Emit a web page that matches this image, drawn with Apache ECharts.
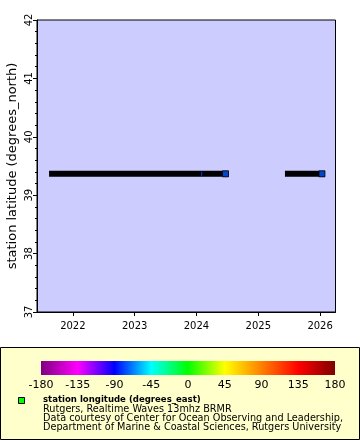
<!DOCTYPE html>
<html><head><meta charset="utf-8">
<script src="https://cdn.jsdelivr.net/npm/echarts@6/dist/echarts.min.js"></script>
<style>html,body{margin:0;padding:0;background:#fff}#c{width:360px;height:440px}</style>
</head><body><div id="c"></div>
<script>
// ---- data ----
const stationLat = 39.366;
const stationLon = -74.36;
const segmentStarts = ["2021-08-31", "2025-06-25"];
const segmentEnds = ["2024-06-21", "2026-01-12"];
const gapPoints = ["2024-02-01"];
const yearTicks = ["2022-01-01", "2023-01-01", "2024-01-01", "2025-01-01", "2026-01-01"];
const xMin = "2021-06-03";
const xMax = "2026-04-02";
const latTicks = [37, 38, 39, 40, 41, 42];
const colorbarTicks = [-180, -135, -90, -45, 0, 45, 90, 135, 180];
const paletteColors = ["#800080", "#ff00ff", "#0000ff", "#00ffff", "#00ff00", "#ffff00", "#ff8000", "#ff0000", "#800000"];
const legendLines = [
  "Rutgers, Realtime Waves 13mhz BRMR",
  "Data courtesy of Center for Ocean Observing and Leadership,",
  "Department of Marine & Coastal Sciences, Rutgers University"
];
const legendTitle = "station longitude (degrees_east)";

// ---- helpers ----
const ts = s => new Date(s + "T00:00:00Z").getTime();
function lonColor(v) {
  const t = (v + 180) / 45;
  const i = Math.min(7, Math.floor(t)), f = t - i;
  const a = paletteColors[i], b = paletteColors[i + 1];
  const p = (h, k) => parseInt(h.substr(k, 2), 16);
  const c = k => Math.round(p(a, k) + (p(b, k) - p(a, k)) * f);
  return "rgb(" + c(1) + "," + c(3) + "," + c(5) + ")";
}
const markColor = lonColor(stationLon);
const FONT = "DejaVu Sans";

const lineData = [];
segmentStarts.forEach((s, i) => {
  lineData.push([ts(s), stationLat], [ts(segmentEnds[i]), stationLat]);
  if (i < segmentStarts.length - 1) lineData.push([ts(segmentEnds[i]) + 1, null]);
});

// colorbar geometry
const cb = {left: 41, top: 361, width: 294, height: 14};

const chart = echarts.init(document.getElementById('c'), null, {renderer: 'canvas'});
chart.setOption({
  animation: false,
  textStyle: {fontFamily: FONT},
  grid: [
    {left: 37, top: 20, right: 24.5, bottom: 128, show: true, backgroundColor: '#ccccff', borderColor: '#000', borderWidth: 1, containLabel: false, outerBoundsMode: 'none'},
    {left: cb.left, top: cb.top, width: cb.width, height: cb.height, show: false, containLabel: false, outerBoundsMode: 'none'}
  ],
  graphic: [
    {type: 'rect', z: -1, silent: true, shape: {x: 0.5, y: 347.5, width: 359, height: 92}, style: {fill: '#ffffcc', stroke: '#000', lineWidth: 1}},
    {type: 'rect', z: 1, silent: true, shape: {x: cb.left, y: cb.top, width: cb.width, height: cb.height},
      style: {fill: new echarts.graphic.LinearGradient(0, 0, 1, 0, paletteColors.map((c, i) => ({offset: i / (paletteColors.length - 1), color: c})))}},
    {type: 'rect', z: 1, silent: true, shape: {x: 18.5, y: 397.5, width: 6, height: 6}, style: {fill: lonColor(0), stroke: '#000', lineWidth: 1}},
    {type: 'text', z: 1, silent: true, x: 43, y: 400, style: {text: legendTitle, font: 'bold 9.5px "DejaVu Sans Condensed"', verticalAlign: 'middle', fill: '#000'}},
    {type: 'text', z: 1, silent: true, x: 43, y: 409, style: {text: legendLines[0], font: '9.7px "DejaVu Sans"', verticalAlign: 'middle', fill: '#000'}},
    {type: 'text', z: 1, silent: true, x: 43, y: 418, style: {text: legendLines[1], font: '9.7px "DejaVu Sans"', verticalAlign: 'middle', fill: '#000'}},
    {type: 'text', z: 1, silent: true, x: 43, y: 427, style: {text: legendLines[2], font: '9.7px "DejaVu Sans"', verticalAlign: 'middle', fill: '#000'}}
  ],
  xAxis: [
    {type: 'value', gridIndex: 0, min: ts(xMin), max: ts(xMax),
      axisLine: {show: true, onZero: false, lineStyle: {color: '#000'}},
      axisTick: {show: true, length: 4, inside: false, lineStyle: {color: '#000'}, customValues: yearTicks.map(ts)},
      axisLabel: {color: '#000', fontSize: 10, margin: 9, customValues: yearTicks.map(ts), formatter: v => String(new Date(v).getUTCFullYear())},
      splitLine: {show: false}},
    {type: 'value', gridIndex: 1, min: -180, max: 180, interval: 45,
      axisLine: {show: false}, axisTick: {show: false}, splitLine: {show: false},
      axisLabel: {color: '#000', fontSize: 11, margin: 5}}
  ],
  yAxis: [
    {type: 'value', gridIndex: 0, min: latTicks[0], max: latTicks[latTicks.length - 1], interval: 1,
      name: 'station latitude (degrees_north)', nameLocation: 'middle', nameGap: 18, nameMoveOverlap: false,
      nameTextStyle: {color: '#000', fontSize: 13, fontFamily: FONT},
      axisLine: {show: true, onZero: false, lineStyle: {color: '#000'}},
      axisTick: {show: true, length: 4, lineStyle: {color: '#000'}},
      minorTick: {show: true, splitNumber: 5, length: 2, lineStyle: {color: '#000'}},
      axisLabel: {color: '#000', fontSize: 10, rotate: 90, margin: 3},
      splitLine: {show: false}},
    {type: 'value', gridIndex: 1, min: 0, max: 1, show: false}
  ],
  series: [
    {type: 'line', xAxisIndex: 0, yAxisIndex: 0, data: lineData, connectNulls: false, showSymbol: false,
      lineStyle: {color: '#000', width: 6, cap: 'square'}},
    {type: 'scatter', xAxisIndex: 0, yAxisIndex: 0, symbol: 'rect', symbolSize: 6,
      data: segmentEnds.map(d => [ts(d), stationLat]),
      itemStyle: {color: markColor, borderColor: '#000', borderWidth: 1}, z: 3},
    {type: 'scatter', xAxisIndex: 0, yAxisIndex: 0, symbol: 'rect', symbolSize: [1, 4],
      data: gapPoints.map(d => [ts(d), stationLat]),
      itemStyle: {color: markColor}, z: 3}
  ]
});
</script></body></html>
